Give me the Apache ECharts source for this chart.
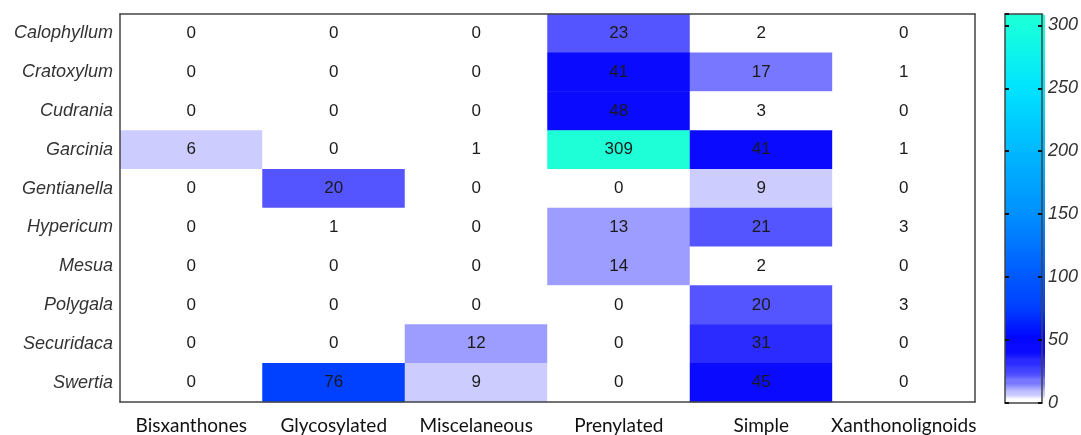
<!DOCTYPE html>
<html>
<head>
<meta charset="utf-8">
<script src="https://cdn.jsdelivr.net/npm/echarts@6/dist/echarts.min.js"></script>
<style>
  html, body { margin: 0; padding: 0; background: #fff; }
  #main { width: 1081px; height: 435px; }
</style>
</head>
<body>
<div id="main"></div>
<script>
// categories
var classes = ['Bisxanthones', 'Glycosylated', 'Miscelaneous', 'Prenylated', 'Simple', 'Xanthonolignoids'];
var genera = ['Calophyllum', 'Cratoxylum', 'Cudrania', 'Garcinia', 'Gentianella',
              'Hypericum', 'Mesua', 'Polygala', 'Securidaca', 'Swertia'];

// counts per genus, in class order
var calophyllum = [0, 0, 0, 23, 2, 0];
var cratoxylum  = [0, 0, 0, 41, 17, 1];
var cudrania    = [0, 0, 0, 48, 3, 0];
var garcinia    = [6, 0, 1, 309, 41, 1];
var gentianella = [0, 20, 0, 0, 9, 0];
var hypericum   = [0, 1, 0, 13, 21, 3];
var mesua       = [0, 0, 0, 14, 2, 0];
var polygala    = [0, 0, 0, 0, 20, 3];
var securidaca  = [0, 0, 12, 0, 31, 0];
var swertia     = [0, 76, 9, 0, 45, 0];

var colorbarTicks = [0, 50, 100, 150, 200, 250, 300];
var vmax = 309;

var rows = [calophyllum, cratoxylum, cudrania, garcinia, gentianella,
            hypericum, mesua, polygala, securidaca, swertia];

var data = [];
rows.forEach(function (r, yi) {
  r.forEach(function (v, xi) {
    data.push([xi, yi, v]);
  });
});

// colormap: stepped white->blue up to 50, then blue->aqua
var steps = [255, 204, 157, 119, 85, 62, 43, 25, 10, 10];
var hi = [[50, [0, 0, 255]], [76, [0, 64, 255]], [100, [0, 88, 255]], [150, [0, 144, 255]],
          [200, [0, 184, 255]], [250, [0, 228, 255]], [300, [24, 255, 220]], [309, [30, 255, 216]]];
function hex(c) {
  return '#' + c.map(function (x) { var s = Math.round(x).toString(16); return s.length < 2 ? '0' + s : s; }).join('');
}
var palette = [];
for (var v = 0; v <= vmax; v++) {
  if (v < 50) {
    var g = steps[Math.floor(v / 5)];
    palette.push(hex([g, g, 255]));
  } else {
    for (var i = 0; i < hi.length - 1; i++) {
      if (v <= hi[i + 1][0]) {
        var t = (v - hi[i][0]) / (hi[i + 1][0] - hi[i][0]);
        var a = hi[i][1], b = hi[i + 1][1];
        palette.push(hex([a[0] + (b[0] - a[0]) * t, a[1] + (b[1] - a[1]) * t, a[2] + (b[2] - a[2]) * t]));
        break;
      }
    }
  }
}

var lineStyle = { color: '#444', width: 1.5 };
var cbTick = { show: true, inside: true, length: 4, lineStyle: { color: '#111', width: 2 } };
var myChart = echarts.init(document.getElementById('main'));

var option = {
  backgroundColor: '#fff',
  animation: false,
  grid: [
    { left: 120, right: 106, top: 14, bottom: 32 },
    { left: 1005, width: 40, top: 14, bottom: 32 }
  ],
  xAxis: [
    {
      type: 'category', data: classes, gridIndex: 0, position: 'bottom',
      axisLine: { onZero: false, lineStyle: lineStyle },
      axisTick: { inside: true, alignWithLabel: true, length: 6, lineStyle: lineStyle },
      axisLabel: { interval: 0, margin: 14, fontFamily: 'Lato', fontSize: 19, color: '#111' },
      splitLine: { show: false }, z: 10
    },
    {
      type: 'category', data: classes, gridIndex: 0, position: 'top',
      axisLine: { onZero: false, lineStyle: lineStyle },
      axisTick: { inside: true, alignWithLabel: true, length: 6, lineStyle: lineStyle },
      axisLabel: { show: false }, z: 10
    },
    {
      type: 'value', gridIndex: 1, min: 0, max: 1, position: 'bottom',
      axisLine: { onZero: false, lineStyle: lineStyle }, axisTick: { show: false },
      axisLabel: { show: false }, splitLine: { show: false }, z: 10
    },
    {
      type: 'value', gridIndex: 1, min: 0, max: 1, position: 'top',
      axisLine: { show: true, onZero: false, lineStyle: lineStyle }, axisTick: { show: false },
      axisLabel: { show: false }, splitLine: { show: false }, z: 10
    }
  ],
  yAxis: [
    {
      type: 'category', data: genera, inverse: true, gridIndex: 0, position: 'left',
      axisLine: { onZero: false, lineStyle: lineStyle },
      axisTick: { inside: true, alignWithLabel: true, length: 7, lineStyle: lineStyle },
      axisLabel: { margin: 7, fontFamily: 'Liberation Sans', fontStyle: 'italic', fontSize: 18, color: '#333' },
      z: 10
    },
    {
      type: 'category', data: genera, inverse: true, gridIndex: 0, position: 'right',
      axisLine: { onZero: false, lineStyle: lineStyle },
      axisTick: { inside: true, alignWithLabel: true, length: 7, lineStyle: lineStyle },
      axisLabel: { show: false }, z: 10
    },
    {
      type: 'value', gridIndex: 1, min: 0, max: vmax, interval: 50, position: 'right',
      axisLine: { show: true, onZero: false, lineStyle: lineStyle },
      axisTick: cbTick,
      axisLabel: {
        margin: 6, fontFamily: 'Liberation Sans', fontStyle: 'italic', fontSize: 18, color: '#333',
        showMaxLabel: false,
        formatter: function (v) { return colorbarTicks.indexOf(v) >= 0 ? v : ''; }
      },
      splitLine: { show: false }, z: 10
    },
    {
      type: 'value', gridIndex: 1, min: 0, max: vmax, interval: 50, position: 'left',
      axisLine: { show: true, onZero: false, lineStyle: lineStyle },
      axisTick: cbTick,
      axisLabel: { show: false }, splitLine: { show: false }, z: 10
    }
  ],
  visualMap: {
    type: 'continuous',
    seriesIndex: 0,
    min: 0,
    max: vmax,
    calculable: false,
    hoverLink: false,
    orient: 'vertical',
    left: 1005,
    top: 14,
    itemWidth: 40,
    itemHeight: 389,
    padding: 0,
    text: null,
    inRange: { color: palette }
  },
  series: [
    {
      type: 'heatmap',
      xAxisIndex: 0,
      yAxisIndex: 0,
      data: data,
      label: {
        show: true, fontFamily: 'Liberation Sans', fontSize: 17, color: '#1a1a1a', textBorderWidth: 0
      },
      itemStyle: { borderWidth: 0 }
    }
  ]
};

myChart.setOption(option);
window.addEventListener('resize', function () {
  myChart.resize();
});
</script>
</body>
</html>
